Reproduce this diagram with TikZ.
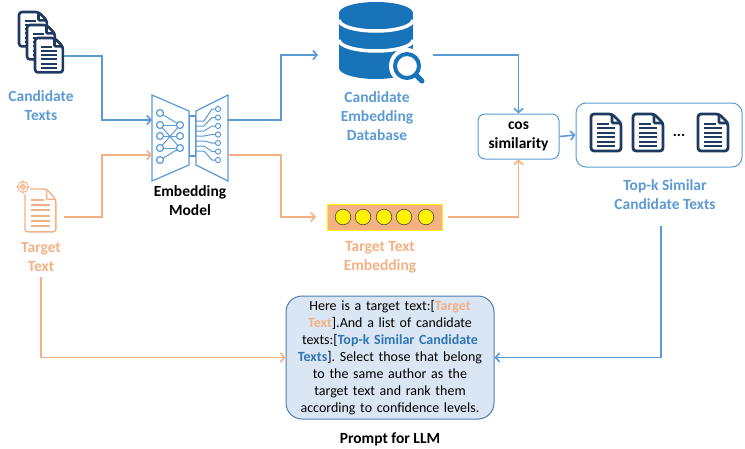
\documentclass[tikz,border=0pt]{standalone}
\usepackage{fontspec}
\setmainfont{Carlito}
\usetikzlibrary{arrows.meta}
\frenchspacing

\definecolor{lineblue}{HTML}{5B9BD5}
\definecolor{lineorange}{HTML}{F4B183}
\definecolor{navy}{HTML}{1F3A60}
\definecolor{dbblue}{HTML}{1873B8}
\definecolor{textblue}{HTML}{2E75B6}
\definecolor{promptfill}{HTML}{DAE6F3}
\definecolor{promptedge}{HTML}{4A7BB0}

\begin{document}
\begin{tikzpicture}[
    x = 1pt,
    y = -1pt,
    >={Straight Barb[length=4pt,width=9pt]},
    blueline/.style = {draw=lineblue, line width=1.6pt, ->},
    orangeline/.style = {draw=lineorange, line width=1.6pt, ->},
    icon/.style = {inner sep=0pt, outer sep=0pt, minimum height=10pt},
    lbl/.style = {align=center, font=\fontsize{15.5}{19}\selectfont\bfseries},
    modelline/.style = {draw=lineblue, line width=1.2pt},
    cosbox/.style = {draw=lineblue, rounded corners=7pt, line width=1pt,
              minimum width=81pt, minimum height=45pt, align=center,
              inner sep=1pt, font=\fontsize{15.5}{19}\selectfont\bfseries},
    prompt/.style = {draw=promptedge, fill=promptfill, rounded corners=16pt,
              line width=1pt, align=center, text width=204pt,
              minimum height=123pt, inner sep=2pt,
              font=\fontsize{14}{17}\selectfont},
    textdoc/.pic = {
        \draw[pic actions, fill=white, rounded corners=3pt]
            (0,0) -- (21,0) -- (30,9) -- (30,37) -- (0,37) -- cycle;
        \draw[pic actions, rounded corners=1pt] (21,0) -- (21,9) -- (30,9);
        \draw[pic actions, line width=2pt] (6,9.5) -- (18,9.5);
        \foreach \yy in {14,18.5,23,27.5,32}
            \draw[pic actions, line width=2pt] (6,\yy) -- (24,\yy);
    },
    ]

% candidate texts
\pic[draw=navy, line width=2.6pt, scale=0.93] at (19,12) {textdoc};
\pic[draw=navy, line width=2.6pt, scale=0.93] at (27,25) {textdoc};
\pic[draw=navy, line width=2.6pt, scale=0.93] at (35,38) {textdoc};
\node[icon, minimum width=30pt] (cand) at (49,56) {};
\node[lbl, text=lineblue] (cand_lbl) at (41,106) {Candidate\\Texts};

% target text
\pic[draw=lineorange, line width=1.4pt, xscale=1.03, yscale=1.16] at (25,189) {textdoc};
\fill[white] (23,187) circle (7.5);
\draw[lineorange, line width=0.9pt] (23,187) circle (5.5) (23,187) circle (2.5)
    (16,187) -- (30,187) (23,180) -- (23,194);
\node[icon, minimum width=38pt] (target) at (45,217) {};
\node[lbl, text=lineorange] (target_lbl) at (41,257) {Target\\Text};
\coordinate (target_out) at (41,277);

% embedding model
\node[icon, minimum width=76pt, minimum height=86pt] (model) at (190,138) {};
\draw[modelline] (152,95) -- (189,111) -- (189,165) -- (152,181) -- cycle;
\draw[modelline] (228,95) -- (196,111) -- (196,165) -- (228,181) -- cycle;
\foreach \a/\b in {113/125, 125/125, 125/148, 136/136, 148/125, 148/148, 160/148}
    \draw[modelline, line width=1pt] (160,\a) -- (180,\b);
\foreach \yy in {113,125,136,148,160}
    \draw[modelline, fill=white] (160,\yy) circle (3.5);
\foreach \yy in {125,136,148}
    \draw[modelline, fill=white] (180,\yy) circle (3.5);
\foreach \k in {0,...,6}
    \draw[modelline, line width=1pt] (196,121+5*\k) -- (204,121+5*\k)
        -- (212,109+8.5*\k) -- (215,109+8.5*\k);
\foreach \k in {0,...,6}
    \draw[modelline, line width=1pt, fill=white] (218,109+8.5*\k) circle (2.6);
\draw[modelline, fill=white] (189.5,116) rectangle (195.5,156);
\node[lbl] (model_lbl) at (190,201) {Embedding\\Model};
\coordinate (model_in1) at (152,120);
\coordinate (model_in2) at (152,155);
\coordinate (model_out1) at (228,120);
\coordinate (model_out2) at (228,155);

% candidate embedding database
\fill[dbblue] (376,13) ellipse [x radius=37, y radius=11];
\fill[dbblue] (339,13) rectangle (413,68);
\fill[dbblue] (376,68) ellipse [x radius=37, y radius=11];
\draw[white, line width=3.5pt] (339,20) arc[start angle=180, end angle=0, x radius=37, y radius=11];
\draw[white, line width=3.5pt] (339,40) arc[start angle=180, end angle=0, x radius=37, y radius=11];
\fill[white] (407,66) circle (18);
\draw[dbblue, line width=4pt, fill=white] (407,66) circle (12);
\draw[dbblue, line width=5pt, line cap=round] (416,75) -- (422,81);
\node[icon, minimum width=115pt] (db) at (375.5,55) {};
\node[lbl, text=lineblue] (db_lbl) at (377,116.5) {Candidate\\Embedding\\Database};

% target text embedding
\node[icon, draw=yellow, fill=lineorange, line width=1pt,
      minimum width=115pt, minimum height=26pt] (emb) at (384.5,217) {};
\foreach \x in {343,363,384,404,426}
    \draw[draw=gray!60!black, fill=yellow, line width=0.6pt] (\x,217) circle (7.8);
\node[lbl, text=lineorange] (emb_lbl) at (380,257) {Target Text\\Embedding};

% cos similarity
\node[cosbox] (cos) at (518.5,136.5) {cos\\similarity};

% top-k similar candidate texts
\node[draw=lineblue, rounded corners=10pt, line width=1pt,
      minimum width=166pt, minimum height=64pt] (topk) at (659,135) {};
\pic[draw=navy, line width=2.8pt] at (591,114) {textdoc};
\pic[draw=navy, line width=2.8pt] at (633,114) {textdoc};
\pic[draw=navy, line width=2.8pt] at (698,114) {textdoc};
\node[font=\fontsize{15.5}{19}\selectfont\bfseries] (topk_dots) at (679,135) {...};
\node[lbl, text=lineblue] (topk_lbl) at (665,195) {Top-k Similar\\Candidate Texts};
\coordinate (topk_out) at (661,226);

% prompt
\node[prompt] (prompt) at (390,357.5) {Here is a target text:[\textcolor{lineorange}{\textbf{Target}}\\
    \textcolor{lineorange}{\textbf{Text}}].And a list of candidate\\
    texts:[\textcolor{textblue}{\textbf{Top-k Similar Candidate}}\\
    \textcolor{textblue}{\textbf{Texts}}]. Select those that belong\\
    to the same author as the\\
    target text and rank them\\
    according to confidence levels.};
\node[lbl] (prompt_lbl) at (390,439) {Prompt for LLM};

% connectors
\draw[blueline] (cand.east) -- ++(38,0) |- (model_in1);
\draw[orangeline] (target.east) -- ++(38,0) |- (model_in2);
\draw[blueline] (model_out1) -- ++(53,0) |- (db.west);
\draw[orangeline, shorten >=11pt] (model_out2) -- ++(53,0) |- (emb.west);
\draw[blueline] (db.east) -| (cos.north);
\draw[orangeline, shorten <=6pt] (emb.east) -| (cos.south);
\draw[blueline] (cos.east) -- (topk.west);
\draw[blueline] (topk_out) |- (prompt.east);
\draw[orangeline] (target_out) |- (prompt.west);

\useasboundingbox (0,0) rectangle (745,446);

\end{tikzpicture}
\end{document}
